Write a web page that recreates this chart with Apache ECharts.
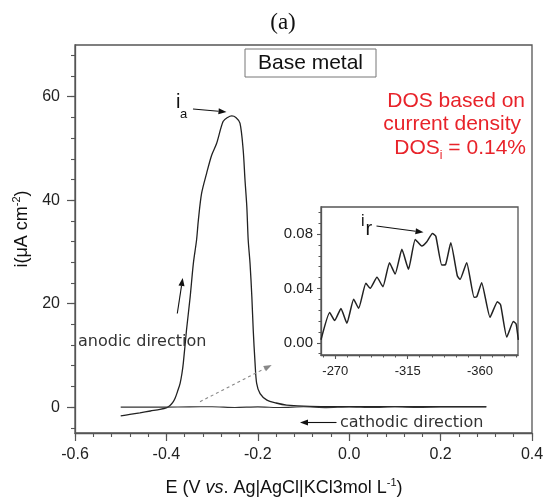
<!DOCTYPE html>
<html><head><meta charset="utf-8">
<script src="https://cdn.jsdelivr.net/npm/echarts@6/dist/echarts.min.js"></script>
<style>html,body{margin:0;padding:0;background:#fff}#c{width:545px;height:499px}</style>
</head><body><div id="c"></div>
<script>
// Anodic (forward) scan: [E (V), i (uA cm-2)]
const anodicScan = [
  [-0.500,-1.7],[-0.480,-1.4],[-0.458,-1.1],[-0.435,-0.75],[-0.414,-0.45],[-0.399,-0.1],
  [-0.392,0.3],[-0.386,0.9],[-0.381,1.7],[-0.375,3.2],[-0.370,4.6],[-0.366,6.5],[-0.363,8.5],
  [-0.356,14.9],[-0.348,21.3],[-0.341,27.8],[-0.334,32.3],[-0.330,36.2],[-0.323,41.3],
  [-0.312,45.2],[-0.301,48.7],[-0.290,51.0],[-0.276,55.2],[-0.266,56.0],[-0.257,56.3],
  [-0.248,56.0],[-0.239,54.9],[-0.232,49.7],[-0.228,43.9],[-0.224,38.7],[-0.221,32.3],
  [-0.217,27.8],[-0.213,21.3],[-0.210,14.9],[-0.206,8.5],[-0.2025,4.6],[-0.195,2.6],
  [-0.180,1.35],[-0.160,0.8],[-0.137,0.4],[-0.086,0.15],[0.000,0.1],[0.100,0.1],
  [0.200,0.08],[0.300,0.08]
];
// Reverse (cathodic) scan
const cathodicScan = [
  [0.300,0.05],[0.200,0.02],[0.150,-0.05],[0.100,0.06],[0.050,-0.08],[0.000,0.04],
  [-0.050,-0.1],[-0.100,0.08],[-0.150,-0.07],[-0.200,0.05],[-0.250,-0.06],[-0.300,0.08],
  [-0.350,0.05],[-0.400,0.0],[-0.450,0.0],[-0.500,0.0]
];
// Inset: reactivation region [E (mV), i (uA cm-2)]
const insetCurve = [
  [-261.1,0.0022],[-266.5,0.0223],[-269.6,0.0164],[-273.5,0.0252],[-277.2,0.0144],
  [-281.4,0.0321],[-284.5,0.0254],[-289.0,0.0438],[-291.7,0.0401],[-295.9,0.0482],
  [-299.6,0.0413],[-303.7,0.0590],[-307.2,0.0506],[-311.4,0.0688],[-315.5,0.0541],
  [-319.7,0.0761],[-323.8,0.0712],[-326.9,0.0744],[-330.4,0.0805],[-332.5,0.0785],
  [-336.2,0.0573],[-338.5,0.0575],[-341.8,0.0736],[-345.9,0.0492],[-347.6,0.0467],
  [-351.7,0.0590],[-356.3,0.0335],[-358.0,0.0340],[-361.0,0.0443],[-366.2,0.0188],
  [-370.8,0.0303],[-372.8,0.0279],[-376.6,0.0042],[-380.7,0.0157],[-382.4,0.0139],
  [-383.8,0.0022]
];
const xMainTicks = [-0.6,-0.4,-0.2,0.0,0.2,0.4];
const yMainTicks = [0,20,40,60];
const xInsetTicks = [-270,-315,-360];
const yInsetTicks = [0.00,0.04,0.08];

const xMainMinor = []; for (let k=-15;k<=10;k++) xMainMinor.push(Math.round(k*4)/100);
const yMainMinor = []; for (let k=-1;k<=17;k++) yMainMinor.push(k*4);
const xInsetMinor = []; for (let k=-1;k<=15;k++) xInsetMinor.push(-270-k*7.5);
const yInsetMinor = []; for (let k=-1;k<=12;k++) yInsetMinor.push(Math.round(k*8)/1000);

const AX = '#555';
const SANS = '"Liberation Sans", Arial, sans-serif';
const chart = echarts.init(document.getElementById('c'), null, {renderer:'canvas'});

function majorAxis(extra){
  return Object.assign({
    type:'value', splitLine:{show:false},
    axisLine:{show:true, onZero:false, lineStyle:{color:AX, width:1.3}},
    axisTick:{show:true, inside:false, length:8, lineStyle:{color:AX, width:1.2}},
    axisLabel:{fontFamily:SANS, fontSize:16, color:'#222'}
  }, extra);
}
function minorAxis(extra){
  return Object.assign({
    type:'value', splitLine:{show:false},
    axisLine:{show:false, onZero:false},
    axisTick:{show:true, inside:false, length:4, lineStyle:{color:AX, width:1.1}},
    axisLabel:{show:false}
  }, extra);
}

function arrow(x1,y1,x2,y2,color,dashed,head){
  head = head || 8;
  const a = Math.atan2(y2-y1, x2-x1);
  const hw = head*0.38;
  const bx = x2 - head*Math.cos(a), by = y2 - head*Math.sin(a);
  return [
    {type:'line', silent:true, z:50, shape:{x1:x1,y1:y1,x2:bx,y2:by},
     style:{stroke:color, lineWidth:1.1, lineDash: dashed?[3,3]:null}},
    {type:'polygon', silent:true, z:50, shape:{points:[[x2,y2],
      [bx - hw*Math.sin(a), by + hw*Math.cos(a)],
      [bx + hw*Math.sin(a), by - hw*Math.cos(a)]]}, style:{fill:color}}
  ];
}

const RED = '#e8232a';
const graphics = [
  {type:'text', x:283, y:23, z:50, style:{text:'(a)', font:'23px "Liberation Serif", serif', fill:'#111', align:'center', verticalAlign:'middle'}},
  {type:'rect', z:50, shape:{x:245, y:49, width:131, height:28}, style:{fill:'#fff', stroke:'#777', lineWidth:1}},
  {type:'text', x:310.5, y:63.5, z:51, style:{text:'Base metal', font:'21px '+SANS, fill:'#111', align:'center', verticalAlign:'middle'}},
  {type:'text', x:525, y:101.5, z:50, style:{text:'DOS based on', font:'21px '+SANS, fill:RED, align:'right', verticalAlign:'middle'}},
  {type:'text', x:521, y:124, z:50, style:{text:'current density', font:'21px '+SANS, fill:RED, align:'right', verticalAlign:'middle'}},
  {type:'text', x:526, y:148.5, z:50, style:{text:'DOS{s|i} = 0.14%', font:'21px '+SANS, fill:RED, align:'right', verticalAlign:'middle',
     rich:{s:{fontSize:12, fontFamily:'Liberation Sans', fill:RED, padding:[14,0,0,0]}}}},
  {type:'text', x:176, y:102, z:50, style:{text:'i', font:'20px '+SANS, fill:'#111', align:'left', verticalAlign:'middle'}},
  {type:'text', x:180, y:114, z:50, style:{text:'a', font:'13px '+SANS, fill:'#111', align:'left', verticalAlign:'middle'}},
  {type:'text', x:361, y:222, z:50, style:{text:'i', font:'16px '+SANS, fill:'#111', align:'left', verticalAlign:'middle'}},
  {type:'text', x:365.5, y:229, z:50, style:{text:'r', font:'20px '+SANS, fill:'#111', align:'left', verticalAlign:'middle'}},
  {type:'text', x:78, y:341.5, z:50, style:{text:'anodic direction', font:'16px "DejaVu Sans", sans-serif', fill:'#333', align:'left', verticalAlign:'middle'}},
  {type:'text', x:340, y:423, z:50, style:{text:'cathodic direction', font:'16px "DejaVu Sans", sans-serif', fill:'#333', align:'left', verticalAlign:'middle'}},
  {type:'text', x:22, y:229, rotation:Math.PI/2, z:50, style:{text:'{a|i(μA cm}{s|-2}{a|)}', align:'center', verticalAlign:'middle',
     rich:{a:{fontSize:18, fontFamily:'Liberation Sans', fill:'#111', lineHeight:22}, s:{fontSize:11, fontFamily:'Liberation Sans', fill:'#111', verticalAlign:'top', lineHeight:11}}}},
  {type:'text', x:284, y:488, z:50, style:{text:'{a|E (V }{i|vs}{a|. Ag|AgCl|KCl3mol L}{s|-1}{a|)}', align:'center', verticalAlign:'middle',
     rich:{a:{fontSize:18, fontFamily:'Liberation Sans', fill:'#111', lineHeight:22}, i:{fontSize:18, fontFamily:'Liberation Sans', fontStyle:'italic', fill:'#111', lineHeight:22},
           s:{fontSize:11, fontFamily:'Liberation Sans', fill:'#111', verticalAlign:'top', lineHeight:11}}}}
].concat(
  arrow(193,109,226.5,112,'#111',false,8),
  arrow(376.5,226,423.5,232.3,'#111',false,8),
  arrow(177.3,313.5,182.7,278,'#111',false,8),
  arrow(336.5,422.5,300,422.5,'#111',false,8),
  arrow(200,401.7,271.7,365,'#888',true,8)
);

chart.setOption({
  animation:false,
  backgroundColor:'#fff',
  grid:[
    {left:75, right:13, top:45, bottom:66, show:true, borderColor:AX, borderWidth:1.3, backgroundColor:'transparent', outerBoundsMode:'none', containLabel:false},
    {left:321, right:27, top:207, bottom:144, show:true, borderColor:AX, borderWidth:1.3, backgroundColor:'#fff', outerBoundsMode:'none', containLabel:false, z:3}
  ],
  xAxis:[
    majorAxis({gridIndex:0, min:-0.6, max:0.4, position:'bottom',
      axisTick:{show:true, inside:false, length:8, customValues:xMainTicks, lineStyle:{color:AX, width:1.2}},
      axisLabel:{customValues:xMainTicks, formatter:v=>v.toFixed(1), fontFamily:SANS, fontSize:16, color:'#222', margin:14}}),
    minorAxis({gridIndex:0, min:-0.6, max:0.4, position:'bottom',
      axisTick:{show:true, inside:false, length:4, customValues:xMainMinor, lineStyle:{color:AX, width:1.1}}}),
    majorAxis({gridIndex:1, min:-383.6, max:-261.1, inverse:true, position:'bottom', z:4,
      axisTick:{show:true, inside:false, length:4, customValues:xInsetTicks, lineStyle:{color:AX, width:1.1}},
      axisLabel:{customValues:xInsetTicks, formatter:v=>String(v), fontFamily:SANS, fontSize:13, color:'#222', margin:10}}),
    minorAxis({gridIndex:1, min:-383.6, max:-261.1, inverse:true, position:'bottom', z:4,
      axisTick:{show:true, inside:false, length:2.5, customValues:xInsetMinor, lineStyle:{color:AX, width:1}}})
  ],
  yAxis:[
    majorAxis({gridIndex:0, min:-5, max:70, position:'left',
      axisTick:{show:true, inside:false, length:8, customValues:yMainTicks, lineStyle:{color:AX, width:1.2}},
      axisLabel:{customValues:yMainTicks, formatter:v=>String(v), fontFamily:SANS, fontSize:16, color:'#222', margin:15}}),
    minorAxis({gridIndex:0, min:-5, max:70, position:'left',
      axisTick:{show:true, inside:false, length:4, customValues:yMainMinor, lineStyle:{color:AX, width:1.1}}}),
    majorAxis({gridIndex:1, min:-0.009, max:0.1, position:'left', z:4,
      axisTick:{show:true, inside:false, length:4, customValues:yInsetTicks, lineStyle:{color:AX, width:1.1}},
      axisLabel:{customValues:yInsetTicks, formatter:v=>v.toFixed(2), fontFamily:SANS, fontSize:15, color:'#222', margin:8}}),
    minorAxis({gridIndex:1, min:-0.009, max:0.1, position:'left', z:4,
      axisTick:{show:true, inside:false, length:2.5, customValues:yInsetMinor, lineStyle:{color:AX, width:1}}})
  ],
  series:[
    {type:'line', name:'anodic', xAxisIndex:0, yAxisIndex:0, data:anodicScan, showSymbol:false, smooth:0.3,
     lineStyle:{color:'#222', width:1.3}, z:2},
    {type:'line', name:'cathodic', xAxisIndex:0, yAxisIndex:0, data:cathodicScan, showSymbol:false, smooth:0.2,
     lineStyle:{color:'#333', width:1.1}, z:2},
    {type:'line', name:'inset', xAxisIndex:2, yAxisIndex:2, data:insetCurve, showSymbol:false, smooth:0.15,
     lineStyle:{color:'#222', width:1.5}, z:5}
  ],
  graphic:graphics
});
</script></body></html>
